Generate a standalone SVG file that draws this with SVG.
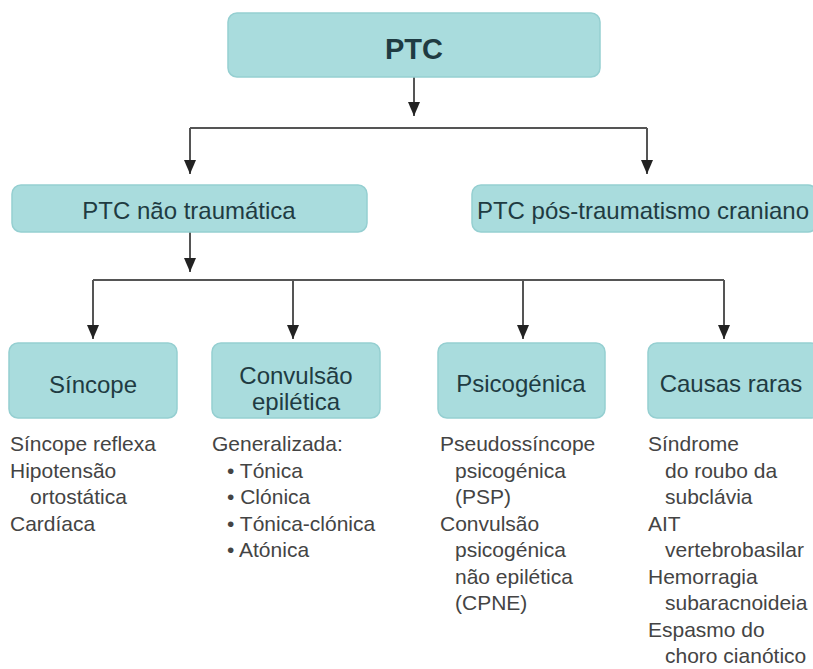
<svg xmlns="http://www.w3.org/2000/svg" width="813" height="669" viewBox="0 0 813 669">
<style>
.box{fill:#a9dcdd;stroke:#95cfd1;stroke-width:1.5}
.bt{font-family:"Liberation Sans",Arial,sans-serif;font-size:24px;fill:#1f3b42;text-anchor:middle}
.lt{font-family:"Liberation Sans",Arial,sans-serif;font-size:21px;fill:#444}
.ln{fill:none;stroke:#555;stroke-width:2}
</style>
<defs>
<marker id="ah" markerUnits="userSpaceOnUse" markerWidth="14" markerHeight="12" viewBox="0 0 14 12" refX="14" refY="6" orient="auto">
<path d="M0,0 L14,6 L0,12 z" fill="#222"/>
</marker>
</defs>
<rect width="813" height="669" fill="#fff"/>
<g id="connectors">
<path class="ln" d="M414,77 V116" marker-end="url(#ah)"/>
<path class="ln" d="M190,128 H647"/>
<path class="ln" d="M190,128 V174" marker-end="url(#ah)"/>
<path class="ln" d="M647,128 V174" marker-end="url(#ah)"/>
<path class="ln" d="M190,232 V272" marker-end="url(#ah)"/>
<path class="ln" d="M93,280 H724"/>
<path class="ln" d="M93,280 V339" marker-end="url(#ah)"/>
<path class="ln" d="M293,280 V339" marker-end="url(#ah)"/>
<path class="ln" d="M523,280 V339" marker-end="url(#ah)"/>
<path class="ln" d="M724,280 V339" marker-end="url(#ah)"/>
</g>
<g id="ptc">
<rect class="box" x="228" y="13" width="372" height="64" rx="9"/>
<text class="bt" x="414" y="59" style="font-size:29px;font-weight:bold">PTC</text>
</g>
<g id="nao-traumatica">
<rect class="box" x="12" y="185" width="355" height="47" rx="9"/>
<text class="bt" x="189" y="219">PTC não traumática</text>
</g>
<g id="pos-traumatismo">
<rect class="box" x="472" y="185" width="345" height="47" rx="9"/>
<text class="bt" x="643" y="219">PTC pós-traumatismo craniano</text>
</g>
<g id="sincope">
<rect class="box" x="9" y="343" width="168" height="75" rx="9"/>
<text class="bt" x="93" y="393">Síncope</text>
<text class="lt" x="10" y="451">Síncope reflexa</text>
<text class="lt" x="10" y="478">Hipotensão</text>
<text class="lt" x="30" y="504">ortostática</text>
<text class="lt" x="10" y="531">Cardíaca</text>
</g>
<g id="convulsao">
<rect class="box" x="212" y="343" width="168" height="75" rx="9"/>
<text class="bt" x="296" y="384">Convulsão</text>
<text class="bt" x="296" y="410">epilética</text>
<text class="lt" x="212" y="451">Generalizada:</text>
<text class="lt" x="227" y="478">• Tónica</text>
<text class="lt" x="227" y="504">• Clónica</text>
<text class="lt" x="227" y="531">• Tónica-clónica</text>
<text class="lt" x="227" y="557">• Atónica</text>
</g>
<g id="psicogenica">
<rect class="box" x="438" y="343" width="167" height="75" rx="9"/>
<text class="bt" x="521" y="392">Psicogénica</text>
<text class="lt" x="440" y="451">Pseudossíncope</text>
<text class="lt" x="455" y="478">psicogénica</text>
<text class="lt" x="455" y="504">(PSP)</text>
<text class="lt" x="440" y="531">Convulsão</text>
<text class="lt" x="455" y="557">psicogénica</text>
<text class="lt" x="455" y="584">não epilética</text>
<text class="lt" x="455" y="610">(CPNE)</text>
</g>
<g id="causas-raras">
<rect class="box" x="648" y="343" width="172" height="75" rx="9"/>
<text class="bt" x="731" y="392">Causas raras</text>
<text class="lt" x="648" y="451">Síndrome</text>
<text class="lt" x="665" y="478">do roubo da</text>
<text class="lt" x="665" y="504">subclávia</text>
<text class="lt" x="648" y="531">AIT</text>
<text class="lt" x="665" y="557">vertebrobasilar</text>
<text class="lt" x="648" y="584">Hemorragia</text>
<text class="lt" x="665" y="610">subaracnoideia</text>
<text class="lt" x="648" y="637">Espasmo do</text>
<text class="lt" x="665" y="663">choro cianótico</text>
</g>
</svg>
